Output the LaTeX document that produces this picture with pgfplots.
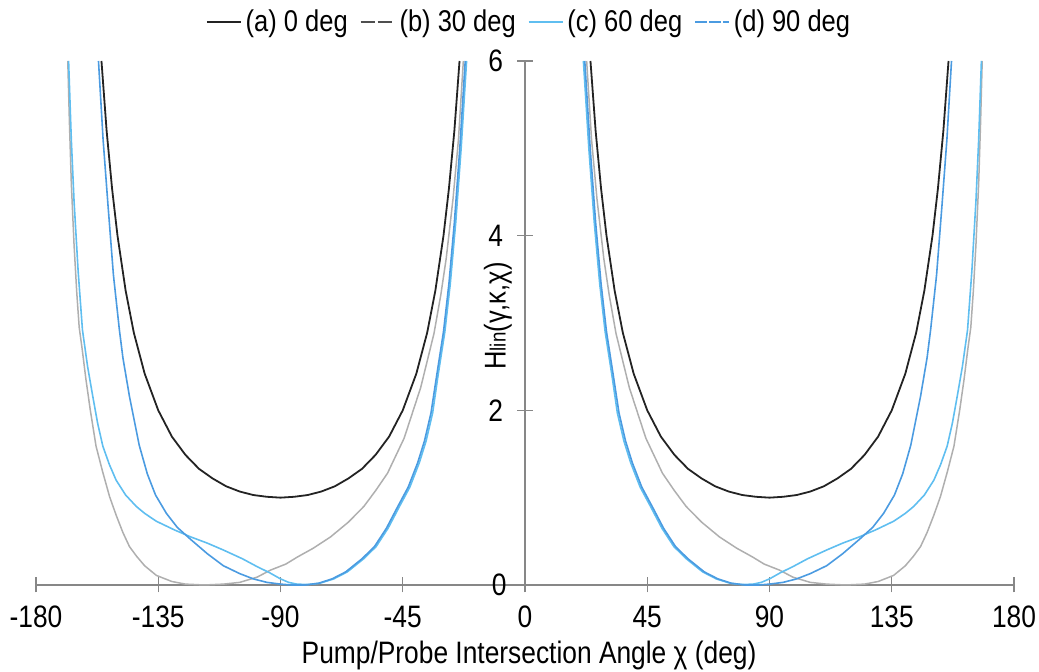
\documentclass[border=0pt]{standalone}
\usepackage{fontspec}
\setmainfont{Liberation Sans}[FakeStretch=0.85]
\usepackage{pgfplots}
\pgfplotsset{compat=1.18}
\usetikzlibrary{calc}
\definecolor{cA}{RGB}{35,35,35}
\definecolor{cB}{RGB}{175,175,175}
\definecolor{cC}{RGB}{95,190,240}
\definecolor{cD}{RGB}{75,155,225}
\definecolor{axgray}{RGB}{135,135,135}
\newcommand{\bigf}{\fontsize{15.5}{18}\selectfont}
\begin{document}
\begin{tikzpicture}
\begin{axis}[
  scale only axis, width=489pt, height=262pt,
  xmin=-180, xmax=180, ymin=0, ymax=6,
  axis x line=bottom, axis y line=middle,
  axis line style={-, draw=axgray, line width=0.6pt},
  xtick={-180,-135,-90,-45,0,45,90,135,180},
  xticklabels={-180,-135,-90,-45,0,45,90,135,180},
  ytick={2,4,6},
  yticklabels={2,4,6},
  tick align=center, major tick length=7.5pt,
  tick style={draw=axgray, line width=0.6pt},
  xticklabel style={font=\bigf, anchor=north, inner sep=0pt, yshift=-6.5pt},
  yticklabel style={font=\bigf, anchor=east, inner sep=0pt, xshift=-7pt},
  clip=false,
  legend columns=4,
  legend style={draw=none, fill=none, font=\fontsize{15}{18}\selectfont, at={(axis description cs:0.5,1)}, anchor=center, yshift=19.5pt, xshift=2.5pt,
    /tikz/every even column/.append style={column sep=4pt}},
  legend image code/.code={\draw[#1] (0pt,0pt) -- (17pt,0pt);},
]
\coordinate (BL) at (rel axis cs:0,0);
\coordinate (TR) at (rel axis cs:1,1);
\addlegendimage{cA, line width=0.9pt}
\addlegendentry{(a) 0 deg}
\addlegendimage{cA!80, line width=0.9pt, dash pattern=on 7pt off 1.5pt}
\addlegendentry{(b) 30 deg}
\addlegendimage{cC, line width=0.8pt}
\addlegendentry{(c) 60 deg}
\addlegendimage{cD, line width=0.8pt, dash pattern=on 6pt off 1pt}
\addlegendentry{(d) 90 deg}

% (b) 30 deg
\addplot[cB, line width=0.75pt, forget plot] coordinates {(-168.3,6) (-167.7,5.3) (-167,4.6) (-166,3.9) (-165,3.35) (-164.1,2.95) (-163,2.7) (-161.6,2.35) (-160,2.0) (-157.9,1.59) (-155.5,1.30) (-152.9,1.01) (-150.5,0.80) (-148,0.60) (-145.6,0.44) (-143,0.33) (-140,0.22) (-135.7,0.11) (-130,0.04) (-125,0.01) (-118,0.0) (-111,0.01) (-105,0.03) (-98.6,0.09) (-93.7,0.17) (-88,0.24) (-83.8,0.32) (-78,0.42) (-71.6,0.55) (-65,0.72) (-59.3,0.90) (-55,1.08) (-50.6,1.28) (-44.5,1.68) (-38.4,2.26) (-33.5,2.88) (-31,3.32) (-29,3.74) (-26.5,4.42) (-24.5,5.1) (-22.7,6)};
\addplot[cB, line width=0.75pt, forget plot] coordinates {(22.7,6) (24.5,5.1) (26.5,4.42) (29,3.74) (31,3.32) (33.5,2.88) (38.4,2.26) (44.5,1.68) (50.6,1.28) (55,1.08) (59.3,0.90) (65,0.72) (71.6,0.55) (78,0.42) (83.8,0.32) (88,0.24) (93.7,0.17) (98.6,0.09) (105,0.03) (111,0.01) (118,0.0) (125,0.01) (130,0.04) (135.7,0.11) (140,0.22) (143,0.33) (145.6,0.44) (148,0.60) (150.5,0.80) (152.9,1.01) (155.5,1.30) (157.9,1.59) (160,2.0) (161.6,2.35) (163,2.7) (164.1,2.95) (165,3.35) (166,3.9) (167,4.6) (167.7,5.3) (168.3,6)};

% (a) 0 deg
\addplot[cA, line width=0.9pt, forget plot] coordinates {(-155.9,6) (-154,5.20) (-152,4.54) (-150,4.00) (-147,3.37) (-144,2.89) (-140,2.42) (-135,2.00) (-130,1.70) (-125,1.49) (-120,1.33) (-115,1.22) (-110,1.13) (-105,1.07) (-100,1.03) (-95,1.01) (-90,1.00) (-85,1.01) (-80,1.03) (-75,1.07) (-70,1.13) (-65,1.22) (-60,1.33) (-55,1.49) (-50,1.70) (-45,2.00) (-40,2.42) (-36,2.89) (-33,3.37) (-30,4.00) (-28,4.54) (-26,5.20) (-24.1,6)};
\addplot[cA, line width=0.9pt, forget plot] coordinates {(24.1,6) (26,5.20) (28,4.54) (30,4.00) (33,3.37) (36,2.89) (40,2.42) (45,2.00) (50,1.70) (55,1.49) (60,1.33) (65,1.22) (70,1.13) (75,1.07) (80,1.03) (85,1.01) (90,1.00) (95,1.01) (100,1.03) (105,1.07) (110,1.13) (115,1.22) (120,1.33) (125,1.49) (130,1.70) (135,2.00) (140,2.42) (144,2.89) (147,3.37) (150,4.00) (152,4.54) (154,5.20) (155.9,6)};

% (c) 60 deg
\addplot[cC, line width=0.8pt, forget plot] coordinates {(-168,6) (-167,5.1) (-166,4.4) (-164.5,3.6) (-162.9,2.92) (-161,2.5) (-159.1,2.16) (-157.3,1.85) (-155.4,1.59) (-153,1.38) (-150.5,1.20) (-147,1.03) (-143.1,0.90) (-140,0.82) (-135.7,0.73) (-129,0.63) (-123,0.55) (-117,0.48) (-111,0.40) (-104,0.30) (-98.6,0.21) (-94,0.14) (-90,0.07) (-87,0.03) (-84,0.01) (-80,0.005) (-75.5,0.02) (-70.4,0.07) (-65.4,0.15) (-59.4,0.30) (-54.8,0.44) (-50.4,0.65) (-46.2,0.90) (-42.4,1.12) (-38.9,1.40) (-36.4,1.65) (-34,1.97) (-32,2.4) (-29.5,2.9) (-27.5,3.45) (-25.5,4.15) (-23.5,5.0) (-21.5,6)};
\addplot[cC, line width=0.8pt, forget plot] coordinates {(21.5,6) (23.5,5.0) (25.5,4.15) (27.5,3.45) (29.5,2.9) (32,2.4) (34,1.97) (36.4,1.65) (38.9,1.40) (42.4,1.12) (46.2,0.90) (50.4,0.65) (54.8,0.44) (59.4,0.30) (65.4,0.15) (70.4,0.07) (75.5,0.02) (80,0.005) (84,0.01) (87,0.03) (90,0.07) (94,0.14) (98.6,0.21) (104,0.30) (111,0.40) (117,0.48) (123,0.55) (129,0.63) (135.7,0.73) (140,0.82) (143.1,0.90) (147,1.03) (150.5,1.20) (153,1.38) (155.4,1.59) (157.3,1.85) (159.1,2.16) (161,2.5) (162.9,2.92) (164.5,3.6) (166,4.4) (167,5.1) (168,6)};

% (d) 90 deg
\addplot[cD, line width=0.8pt, forget plot] coordinates {(-157,6) (-155.3,5.1) (-153.5,4.35) (-151.5,3.55) (-149.3,2.92) (-148,2.60) (-145.6,2.16) (-142,1.60) (-139,1.27) (-136,1.03) (-132,0.82) (-128,0.66) (-123,0.52) (-117,0.36) (-111,0.22) (-105,0.13) (-100,0.07) (-95,0.03) (-90,0.01) (-86,0.0) (-81,0.0) (-76,0.02) (-71,0.07) (-66,0.15) (-60,0.30) (-55.4,0.44) (-51,0.65) (-46.8,0.90) (-43,1.12) (-39.5,1.40) (-37,1.65) (-34.6,1.97) (-32.5,2.4) (-30,2.9) (-28,3.45) (-26,4.15) (-24,5.0) (-22,6)};
\addplot[cD, line width=0.8pt, forget plot] coordinates {(22,6) (24,5.0) (26,4.15) (28,3.45) (30,2.9) (32.5,2.4) (34.6,1.97) (37,1.65) (39.5,1.40) (43,1.12) (46.8,0.90) (51,0.65) (55.4,0.44) (60,0.30) (66,0.15) (71,0.07) (76,0.02) (81,0.0) (86,0.0) (90,0.01) (95,0.03) (100,0.07) (105,0.13) (111,0.22) (117,0.36) (123,0.52) (128,0.66) (132,0.82) (136,1.03) (139,1.27) (142,1.60) (145.6,2.16) (148,2.60) (149.3,2.92) (151.5,3.55) (153.5,4.35) (155.3,5.1) (157,6)};

\node[font=\bigf, anchor=east, inner sep=0pt, xshift=-9pt] at (axis cs:0,0) {0};
\node[rotate=90, font=\fontsize{15}{17}\selectfont, anchor=center] at (axis cs:-10,3.08) {H{\fontsize{11}{13}\selectfont lin}(γ,κ,χ)};
\node[font=\bigf, anchor=center, yshift=-35pt] at (axis cs:1.5,0) {Pump/Probe Intersection Angle χ (deg)};
\end{axis}
\pgfresetboundingbox
\path ($(BL)+(-18pt,-43.5pt)$) rectangle ($(TR)+(12.5pt,30.5pt)$);
\end{tikzpicture}
\end{document}
